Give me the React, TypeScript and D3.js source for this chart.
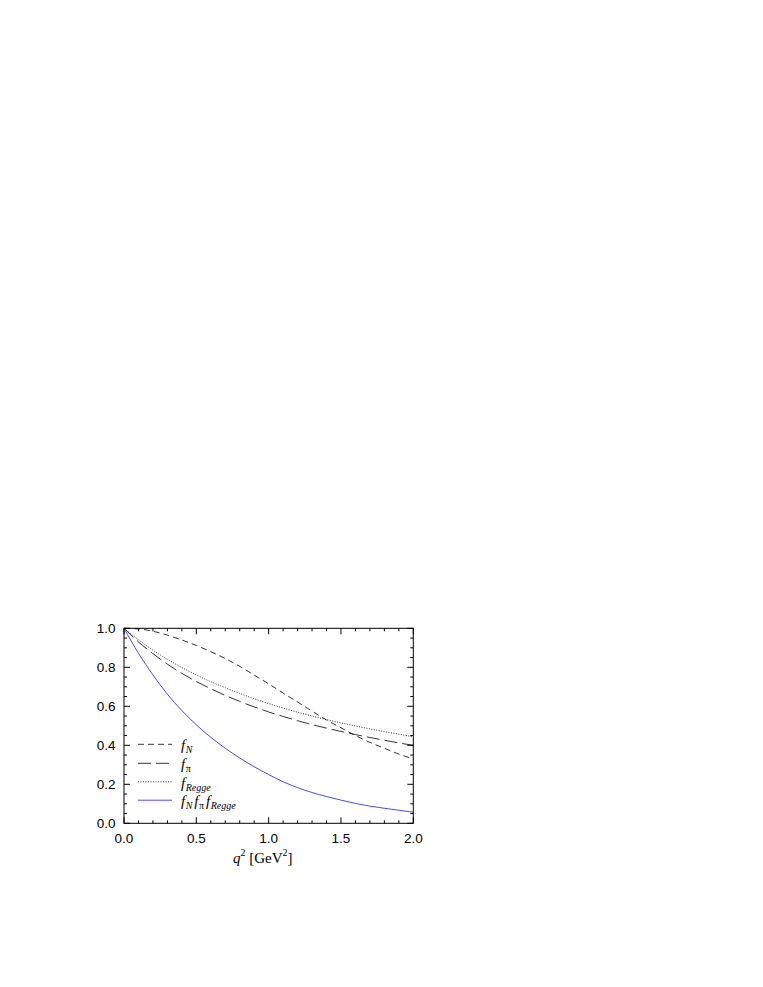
import React from "react";
import * as d3 from "d3";

const q2 = [0, 0.1, 0.2, 0.3, 0.4, 0.5, 0.6, 0.7, 0.8, 0.9, 1.0, 1.1, 1.2, 1.3, 1.4, 1.5, 1.6, 1.7, 1.8, 1.9, 2.0];
const fN = [1.0, 0.997, 0.985, 0.965, 0.94, 0.912, 0.88, 0.845, 0.805, 0.76, 0.715, 0.668, 0.622, 0.575, 0.53, 0.49, 0.45, 0.415, 0.385, 0.355, 0.33];
const fPi = [1.0, 0.93, 0.87, 0.816, 0.769, 0.727, 0.69, 0.656, 0.625, 0.597, 0.571, 0.548, 0.526, 0.506, 0.488, 0.471, 0.455, 0.44, 0.426, 0.412, 0.4];
const fRegge = [1.0, 0.941, 0.888, 0.841, 0.799, 0.761, 0.726, 0.695, 0.666, 0.639, 0.614, 0.591, 0.57, 0.55, 0.532, 0.515, 0.499, 0.484, 0.47, 0.457, 0.443];
const fProd = [1.0, 0.872, 0.761, 0.662, 0.578, 0.505, 0.441, 0.385, 0.335, 0.29, 0.25, 0.213, 0.183, 0.158, 0.137, 0.119, 0.102, 0.088, 0.077, 0.067, 0.057];

const xTickLabels = [0, 0.5, 1.0, 1.5, 2.0];
const yTickLabels = [0, 0.2, 0.4, 0.6, 0.8, 1.0];

const L = 124, R = 413.3, T = 628.3, B = 823.3;

export default function App() {
  const x = d3.scaleLinear().domain([0, 2]).range([L, R]);
  const y = d3.scaleLinear().domain([0, 1]).range([B, T]);
  const mk = (vals: number[]) =>
    d3.line<number>().x((_, i) => x(q2[i])).y((v) => y(v)).curve(d3.curveMonotoneX)(vals) || "";

  const xMinor = d3.range(0, 2.0001, 0.1);
  const yMinor = d3.range(0, 1.0001, 0.05);
  const isMajorX = (v: number) => Math.abs(v * 2 - Math.round(v * 2)) < 1e-6;
  const isMajorY = (v: number) => Math.abs(v * 5 - Math.round(v * 5)) < 1e-6;

  const serif = "'Liberation Serif', 'Times New Roman', serif";
  const sans = "'Liberation Sans', Arial, sans-serif";

  const legendRows = [
    { y: 744.3, dash: "6,4", color: "#000", w: 0.8 },
    { y: 763.3, dash: "13,5", color: "#000", w: 0.8 },
    { y: 781.8, dash: "1,1.5", color: "#000", w: 0.8 },
    { y: 800.2, dash: "", color: "#4a4aff", w: 1 },
  ];

  return (
    <svg width={763} height={987} style={{ position: "absolute", left: 0, top: 0 }}>
      <rect x={0} y={0} width={763} height={987} fill="#fff" />
      <g fill="none">
        <path d={mk(fN)} stroke="#000" strokeWidth={0.8} strokeDasharray="6,4" />
        <path d={mk(fPi)} stroke="#000" strokeWidth={0.8} strokeDasharray="13,5" />
        <path d={mk(fRegge)} stroke="#000" strokeWidth={0.8} strokeDasharray="1,1.5" />
        <path d={mk(fProd)} stroke="#4a4aff" strokeWidth={1} />
      </g>
      <g stroke="#000" strokeWidth={1}>
        {xMinor.map((v, i) => {
          const len = isMajorX(v) ? 6 : 3;
          return (
            <g key={"xt" + i}>
              <line x1={x(v)} x2={x(v)} y1={B} y2={B - len} />
              <line x1={x(v)} x2={x(v)} y1={T} y2={T + len} />
            </g>
          );
        })}
        {yMinor.map((v, i) => {
          const len = isMajorY(v) ? 6 : 3;
          return (
            <g key={"yt" + i}>
              <line x1={L} x2={L + len} y1={y(v)} y2={y(v)} />
              <line x1={R} x2={R - len} y1={y(v)} y2={y(v)} />
            </g>
          );
        })}
      </g>
      <rect x={L} y={T} width={R - L} height={B - T} fill="none" stroke="#000" strokeWidth={1} />
      <g fontFamily={sans} fontSize={13.5} fill="#000">
        {xTickLabels.map((v) => (
          <text key={"xl" + v} x={x(v)} y={842.5} textAnchor="middle">
            {v.toFixed(1)}
          </text>
        ))}
        {yTickLabels.map((v) => (
          <text key={"yl" + v} x={115.5} y={y(v) + 5} textAnchor="end">
            {v.toFixed(1)}
          </text>
        ))}
      </g>
      <text x={233} y={862.5} fontFamily={serif} fontSize={15} fill="#000">
        <tspan fontStyle="italic">q</tspan>
        <tspan fontSize={10} dy={-7}>2</tspan>
        <tspan dy={7}> [GeV</tspan>
        <tspan fontSize={10} dy={-7}>2</tspan>
        <tspan dy={7}>]</tspan>
      </text>
      {legendRows.map((r, i) => (
        <line key={"lg" + i} x1={138} x2={172} y1={r.y} y2={r.y} stroke={r.color} strokeWidth={r.w} strokeDasharray={r.dash} />
      ))}
      <g fontFamily={serif} fontStyle="italic" fill="#000">
        <text x={181} y={750} fontSize={15}>
          f<tspan fontSize={10} dy={3} dx={0.5}>N</tspan>
        </text>
        <text x={181} y={769} fontSize={15}>
          f<tspan fontSize={10} dy={3} dx={0.5} fontStyle="normal">π</tspan>
        </text>
        <text x={181} y={787.5} fontSize={15}>
          f<tspan fontSize={10} dy={3} dx={0.5}>Regge</tspan>
        </text>
        <text x={181} y={806} fontSize={15}>
          f<tspan fontSize={10} dy={3} dx={0.5}>N</tspan>
          <tspan fontSize={15} dy={-3} dx={2}>f</tspan>
          <tspan fontSize={10} dy={3} dx={0.5} fontStyle="normal">π</tspan>
          <tspan fontSize={15} dy={-3} dx={2}>f</tspan>
          <tspan fontSize={10} dy={3} dx={0.5}>Regge</tspan>
        </text>
      </g>
    </svg>
  );
}
